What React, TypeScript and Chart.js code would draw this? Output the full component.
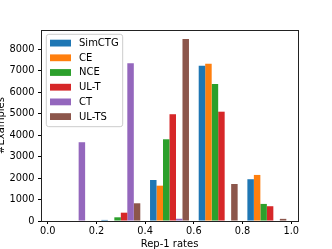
import { useEffect, useRef } from "react";
import { Chart, registerables } from "chart.js";

Chart.register(...registerables);

// Histogram bins (centres of 0.2-wide bins on Rep-1 rate)
const binCenters = [0.1, 0.3, 0.5, 0.7, 0.9];
const seriesNames = ["SimCTG", "CE", "NCE", "UL-T", "CT", "UL-TS"];
const simctg = [0, 50, 1910, 7235, 1945];
const ce = [0, 0, 1645, 7325, 2145];
const nce = [0, 172, 3805, 6380, 795];
const ult = [0, 387, 4972, 5090, 688];
const ct = [3668, 7345, 105, 0, 0];
const ults = [0, 825, 8480, 1723, 100];
const seriesValues = [simctg, ce, nce, ult, ct, ults];
const seriesColors = ["#1f77b4", "#ff7f0e", "#2ca02c", "#d62728", "#9467bd", "#8c564b"];
const xTicks = [0.0, 0.2, 0.4, 0.6, 0.8, 1.0];
const yTicks = [0, 1000, 2000, 3000, 4000, 5000, 6000, 7000, 8000];

const FONT = "'DejaVu Sans', sans-serif";

const frameAndLegend = {
  id: "frameAndLegend",
  afterDatasetsDraw(chart: any) {
    const { ctx, chartArea } = chart;
    const { left, top, right, bottom } = chartArea;
    ctx.save();
    // axes frame (spines)
    ctx.strokeStyle = "#222";
    ctx.lineWidth = 1;
    ctx.strokeRect(left + 0.5, top + 0.5, right - left, bottom - top);
    // legend inside upper-left
    const x0 = left + 5.3;
    const y0 = top + 4.3;
    const w = 76.4;
    const h = 92.4;
    ctx.beginPath();
    if ((ctx as any).roundRect) (ctx as any).roundRect(x0, y0, w, h, 2.5);
    else ctx.rect(x0, y0, w, h);
    ctx.fillStyle = "rgba(255,255,255,0.8)";
    ctx.fill();
    ctx.strokeStyle = "#cccccc";
    ctx.lineWidth = 1;
    ctx.stroke();
    ctx.font = "10px " + FONT;
    ctx.textBaseline = "middle";
    ctx.textAlign = "left";
    chart.data.datasets.forEach((ds: any, i: number) => {
      const cy = y0 + 8.7 + i * 14.7;
      ctx.fillStyle = ds.backgroundColor;
      ctx.fillRect(x0 + 3.7, cy - 3.3, 21, 6.8);
      ctx.fillStyle = "#000";
      ctx.fillText(ds.label, x0 + 32.7, cy + 0.5);
    });
    ctx.restore();
  },
};

export default function App() {
  const ref = useRef<HTMLCanvasElement | null>(null);
  useEffect(() => {
    if (!ref.current) return;
    const chart = new Chart(ref.current, {
      type: "bar",
      data: {
        datasets: seriesNames.map((name, i) => ({
          label: name,
          data: binCenters.map((x, j) => ({ x, y: seriesValues[i][j] })),
          backgroundColor: seriesColors[i],
          borderWidth: 0,
          categoryPercentage: 0.8,
          barPercentage: 1.0,
        })),
      },
      options: {
        animation: false,
        responsive: false,
        devicePixelRatio: 1,
        layout: { padding: { top: 30, right: 34, left: 0, bottom: 0 } },
        plugins: { legend: { display: false }, tooltip: { enabled: false } },
        scales: {
          x: {
            type: "linear",
            min: -0.028,
            max: 1.028,
            offset: false,
            afterBuildTicks: (axis: any) => {
              axis.ticks = xTicks.map((v) => ({ value: v }));
            },
            afterFit: (axis: any) => {
              axis.height = 28;
            },
            grid: {
              display: true,
              offset: false,
              drawOnChartArea: false,
              drawTicks: true,
              tickLength: 3,
              tickColor: "#000",
              color: "#000",
            },
            border: { display: false },
            ticks: {
              autoSkip: false,
              maxRotation: 0,
              includeBounds: false,
              padding: 1.5,
              color: "#000",
              font: { family: FONT, size: 9.8 },
              callback: (v: any) => Number(v).toFixed(1),
            },
            title: {
              display: true,
              text: "Rep-1 rates",
              color: "#000",
              font: { family: FONT, size: 10 },
              padding: { top: 0, bottom: -1.5 },
            },
          },
          y: {
            type: "linear",
            min: 0,
            max: 8894,
            afterBuildTicks: (axis: any) => {
              axis.ticks = yTicks.map((v) => ({ value: v }));
            },
            afterFit: (axis: any) => {
              axis.width = 41;
            },
            grid: {
              display: true,
              drawOnChartArea: false,
              drawTicks: true,
              tickLength: 3,
              tickColor: "#000",
              color: "#000",
            },
            border: { display: false },
            ticks: {
              padding: 3.5,
              color: "#000",
              font: { family: FONT, size: 9.8 },
              callback: (v: any) => String(v),
            },
            title: {
              display: true,
              text: "#Examples",
              color: "#000",
              font: { family: FONT, size: 10 },
              padding: { top: -4.8, bottom: 0 },
            },
          },
        },
      },
      plugins: [frameAndLegend],
    } as any);
    return () => chart.destroy();
  }, []);
  return (
    <div style={{ position: "fixed", left: 0, top: 0, width: 332, height: 249, background: "#fff" }}>
      <canvas ref={ref} width={332} height={249} style={{ display: "block" }} />
    </div>
  );
}
